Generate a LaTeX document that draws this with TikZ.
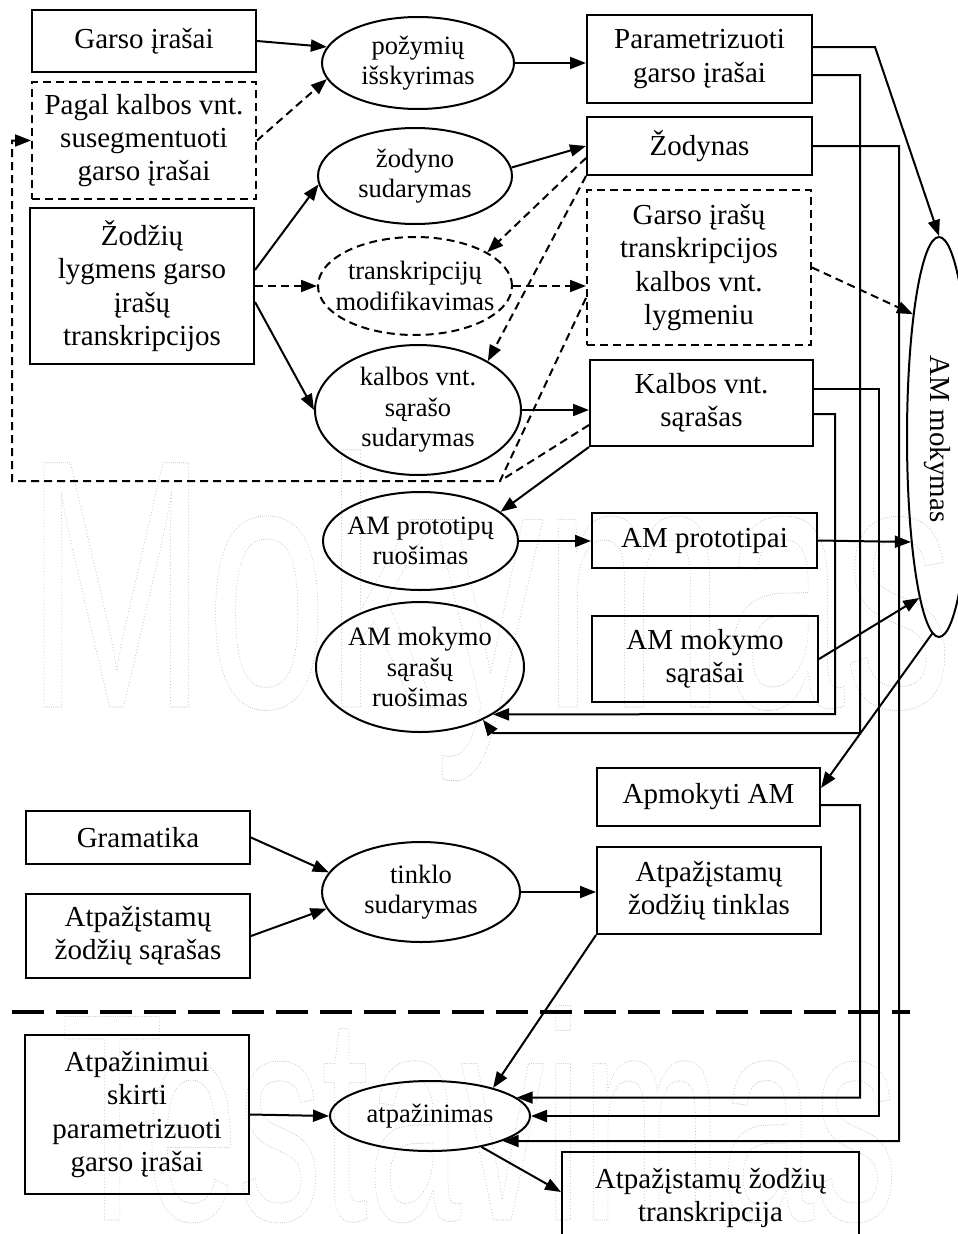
\documentclass[tikz,border=0pt]{standalone}
\usepackage{fontspec}
\setmainfont{Liberation Serif}
\newfontfamily\wmfont{Liberation Sans}
\usetikzlibrary{shapes.geometric,arrows.meta,calc}
\newcommand{\bfnt}{\fontsize{29}{33.4}\selectfont}
\newcommand{\efnt}{\fontsize{26.5}{30.5}\selectfont}
\newcommand{\wmon}{\special{pdf:literal direct 1 Tr 1.1 w 1 J [0 3.2] 0 d}}
\newcommand{\wmoff}{\special{pdf:literal direct 0 Tr 0 J [] 0 d}}
\begin{document}
\begin{tikzpicture}[x=1pt,y=-1pt,
  box/.style={draw, line width=2pt, inner sep=0pt, align=center, font=\bfnt},
  dbox/.style={box, dash pattern=on 8pt off 5pt},
  ell/.style={draw, ellipse, line width=2pt, inner sep=0pt},
  dell/.style={ell, dash pattern=on 8pt off 5pt},
  etxt/.style={inner sep=0pt, align=center, font=\efnt},
  arr/.style={line width=2pt, -{Triangle[length=16pt,width=12pt]}},
  darr/.style={arr, dash pattern=on 8pt off 5pt},
  dline/.style={line width=2pt, dash pattern=on 8pt off 5pt},
  wm/.style={inner sep=0pt, text=black!32, anchor=base west}]
\useasboundingbox (0,0) rectangle (958,1234);
% watermark
\node[wm, font=\wmfont\fontsize{355}{355}\selectfont, xscale=0.61] (wm1) at (26,707) {\wmon Mokymas\wmoff};
\node[wm, font=\wmfont\fontsize{296}{296}\selectfont, xscale=0.565] (wm2) at (61,1220) {\wmon Testavimas\wmoff};
% boxes
\node[box, minimum width=224pt, minimum height=62pt] (gi) at (144,41) {Garso įrašai};
\node[dbox, minimum width=224pt, minimum height=117pt] (pk) at (144,140.5) {Pagal kalbos vnt.\\susegmentuoti\\garso įrašai};
\node[box, minimum width=224pt, minimum height=156pt] (zl) at (142,286) {Žodžių\\lygmens garso\\įrašų\\transkripcijos};
\node[box, minimum width=225pt, minimum height=88pt] (pg) at (699.5,59) {Parametrizuoti\\garso įrašai};
\node[box, minimum width=225pt, minimum height=58pt] (zd) at (699.5,146) {Žodynas};
\node[dbox, minimum width=224pt, minimum height=155pt] (gt) at (699,267.5) {Garso įrašų\\transkripcijos\\kalbos vnt.\\lygmeniu};
\node[box, minimum width=223pt, minimum height=86pt] (ks) at (701.5,403) {Kalbos vnt.\\sąrašas};
\node[box, minimum width=225pt, minimum height=55pt] (ap) at (704.5,540.5) {AM prototipai};
\node[box, minimum width=226pt, minimum height=86pt] (ams) at (705,659) {AM mokymo\\sąrašai};
\node[box, minimum width=223pt, minimum height=58pt] (aam) at (708.5,797) {Apmokyti AM};
\node[box, minimum width=224pt, minimum height=53pt] (gr) at (138,837.5) {Gramatika};
\node[box, minimum width=224pt, minimum height=84pt] (azs) at (138,936) {Atpažįstamų\\žodžių sąrašas};
\node[box, minimum width=224pt, minimum height=87pt] (azt) at (709,890.5) {Atpažįstamų\\žodžių tinklas};
\node[box, minimum width=224pt, minimum height=159pt] (ask) at (137,1114.5) {Atpažinimui\\skirti\\parametrizuoti\\garso įrašai};
\node[box, minimum width=297pt, minimum height=92pt] (azr) at (710.5,1198) {Atpažįstamų žodžių\\transkripcija};
% ellipses
\node[ell, minimum width=192pt, minimum height=92pt] (pi) at (418,63) {};
\node[etxt] (pi-t) at (pi.center) {požymių\\išskyrimas};
\node[ell, minimum width=194pt, minimum height=96pt] (zs) at (415,176) {};
\node[etxt] (zs-t) at (zs.center) {žodyno\\sudarymas};
\node[dell, minimum width=194pt, minimum height=98pt] (tm) at (415,286) {};
\node[etxt] (tm-t) at (tm.center) {transkripcijų\\modifikavimas};
\node[ell, minimum width=206pt, minimum height=130pt] (kss) at (418,410) {};
\node[etxt] (kss-t) at (kss.center) {kalbos vnt.\\sąrašo\\sudarymas};
\node[ell, minimum width=195pt, minimum height=98pt] (apr) at (420.5,541) {};
\node[etxt] (apr-t) at (apr.center) {AM prototipų\\ruošimas};
\node[ell, minimum width=208pt, minimum height=130pt] (amr) at (420,667) {};
\node[etxt] (amr-t) at (amr.center) {AM mokymo\\sąrašų\\ruošimas};
\node[ell, minimum width=198pt, minimum height=100pt] (ts) at (421,892) {};
\node[etxt] (ts-t) at (ts.center) {tinklo\\sudarymas};
\node[ell, minimum width=200pt, minimum height=70pt] (at) at (430,1116) {};
\node[etxt] (at-t) at (at.center) {atpažinimas};
\node[ell, minimum width=64pt, minimum height=400pt] (am) at (939,437) {};
\node[inner sep=0pt, font=\bfnt, rotate=-90] (am-t) at (937,439) {AM mokymas};
% bend coordinates
\coordinate (lpA) at (500,481);
\coordinate (lpB) at (12,481);
\coordinate (p1) at (875,47);
\coordinate (p2) at (860,75);
\coordinate (p3) at (860,733);
\coordinate (p4) at (493,733);
\coordinate (k1) at (835,414);
\coordinate (k2) at (835,714);
\coordinate (k3) at (879,389);
\coordinate (k4) at (879,1116);
\coordinate (z1) at (899,146);
\coordinate (z2) at (899,1141);
\coordinate (a1) at (860,805);
\coordinate (a2) at (860,1097.5);
\coordinate (sepL) at (12,1012);
\coordinate (sepR) at (910,1012);
% connectors
\draw[arr] (gi.east) -- (pi.170);
\draw[darr] (pk.east) -- (pi.190);
\draw[arr] (pi.east) -- (pi.east -| pg.west);
\draw[arr] ($(zl.east)+(0,-16)$) -- (zs.185);
\draw[darr] (zl.east) -- (tm.west);
\draw[arr] ($(zl.east)+(0,16)$) -- (kss.west);
\draw[arr] (zs.5) -- (zd.west);
\draw[darr] ($(zd.west)+(0,12)$) -- (tm.25);
\draw[darr] (zd.south west) -- (kss.35);
\draw[darr] (tm.east) -- (tm.east -| gt.west);
\draw[arr] (kss.east) -- (kss.east -| ks.west);
\draw[darr] ($(gt.west)+(0,30.5)$) -- (lpA) -- (lpB) |- (pk.west);
\draw[dline] ($(ks.west)+(0,22)$) -- (lpA);
\draw[arr] (ks.south west) -- (apr.20);
\draw[arr] (apr.east) -- (apr.east -| ap.west);
\draw[arr] (ap.east) -- (am.255);
\draw[arr] (ams.east) -- (am.263);
\draw[arr] (am.268) -- ($(aam.east)+(0,-9)$);
\draw[arr] ($(pg.east)+(0,-12)$) -- (p1) -- (am.north);
\draw[arr] ($(pg.east)+(0,16)$) -- (p2) -- (p3) -- (p4) -- (amr.-40);
\draw[arr] ($(ks.east)+(0,11)$) -- (k1) -- (k2) -- (amr.-33.5);
\draw[arr] ($(ks.east)+(0,-14)$) -- (k3) -- (k4) -- (at.east);
\draw[arr] (zd.east) -- (z1) -- (z2) -- (at.-19.5);
\draw[arr] ($(aam.east)+(0,8)$) -- (a1) -- (a2) -- (at.12.5);
\draw[darr] (gt.east) -- (am.102);
\draw[arr] (gr.east) -- (ts.168);
\draw[arr] (azs.east) -- (ts.190);
\draw[arr] (ts.east) -- (ts.east -| azt.west);
\draw[arr] (azt.south west) -- (at.24);
\draw[arr] (ask.east) -- (at.west);
\draw[arr] (at.-31) -- ($(azr.west)+(0,-6)$);
\draw[line width=4.5pt, dash pattern=on 32pt off 12pt] (sepL) -- (sepR);
\end{tikzpicture}
\end{document}
